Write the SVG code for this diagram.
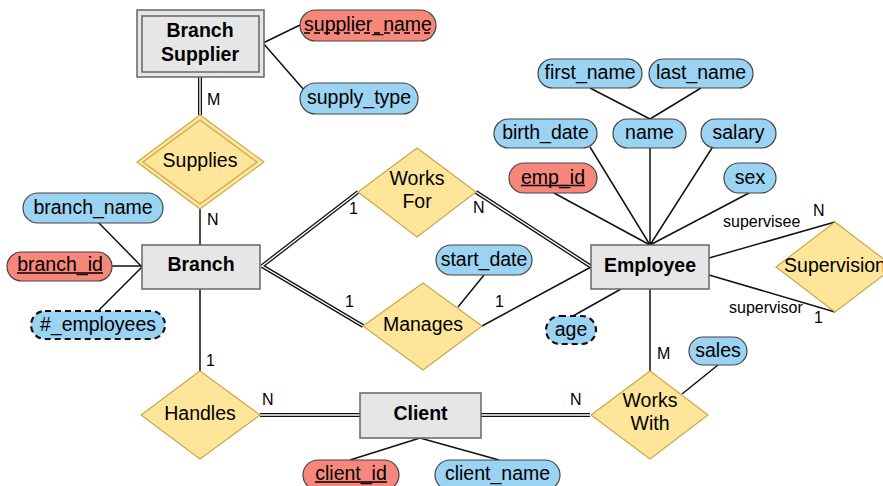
<svg xmlns="http://www.w3.org/2000/svg" width="883" height="486" viewBox="0 0 883 486">
<defs>
<style>
text{font-family:"Liberation Sans",Arial,sans-serif;font-size:19.5px;fill:#000;text-anchor:middle}
.ent{fill:#e6e6e6;stroke:#666;stroke-width:1.5}
.bold{font-weight:bold}
.rel{fill:#fee59a;stroke:#c8a84a;stroke-width:1.2}
.attr{fill:#9bd3f2;stroke:#444;stroke-width:1.2}
.key{fill:#f7877a;stroke:#444;stroke-width:1.2}
.derived{fill:#9bd3f2;stroke:#111;stroke-width:2.2;stroke-dasharray:6 4}
.ln{stroke:#111;stroke-width:1.5;fill:none}
.dbl1{stroke:#111;stroke-width:4;fill:none}
.dbl2{stroke:#fff;stroke-width:1.4;fill:none}
.lbl{font-size:16px;text-anchor:start}
.ul{stroke:#000;stroke-width:1.4}
</style>
</defs>
<rect width="883" height="486" fill="#fff"/>
<g id="connectors">
<path class="ln" d="M263,43 L300,25 M263,43 L304,90 M200,209 L200,245 M98,222 L142,267 M112,266 L142,266 M97,312 L142,267 M482,326 L591,267 M484,275 L458,307 M590,88 L650,119 M701,88 L650,119 M650,148 L650,245 M590,147 L650,245 M712,148 L650,245 M554,193 L650,245 M749,193 L650,245 M709,258 L835,222 M709,275 L835,312 M573,316 L621,289 M650,289 L650,371 M718,365 L682,394 M200,289 L200,371 M420,438 L350,460 M420,438 L499,460"/>
<path class="dbl1" d="M200,77 L200,115 M262,266 L358,192 M262,266 L363,326 M476,192 L590,266 M260,415 L360,415 M481,415 L590,415"/>
<path class="dbl2" d="M200,77 L200,115 M262,266 L358,192 M262,266 L363,326 M476,192 L590,266 M260,415 L360,415 M481,415 L590,415"/>
<text class="lbl" x="207" y="105">M</text>
<text class="lbl" x="207" y="225">N</text>
<text class="lbl" x="349" y="214">1</text>
<text class="lbl" x="473" y="213">N</text>
<text class="lbl" x="345" y="307">1</text>
<text class="lbl" x="495" y="307">1</text>
<text class="lbl" x="723" y="227">supervisee</text>
<text class="lbl" x="813" y="216">N</text>
<text class="lbl" x="729" y="313">supervisor</text>
<text class="lbl" x="814" y="323">1</text>
<text class="lbl" x="657" y="359">M</text>
<text class="lbl" x="570" y="405">N</text>
<text class="lbl" x="262" y="405">N</text>
<text class="lbl" x="206" y="366">1</text>
</g>
<g id="branch_supplier">
<rect class="ent" x="137" y="10" width="127" height="67"/>
<rect class="ent" x="142" y="16" width="117" height="56"/>
<text class="bold" x="200" y="37">Branch</text>
<text class="bold" x="200" y="61">Supplier</text>
</g>
<g id="supplier_name">
<rect class="key" x="300" y="10" width="136" height="31" rx="15.5"/>
<text x="368" y="31">supplier_name</text>
<line class="ul" x1="304" y1="33" x2="432" y2="33" stroke-dasharray="6 4"/>
</g>
<g id="supply_type">
<rect class="attr" x="300" y="83" width="118" height="31" rx="15.5"/>
<text x="359" y="104">supply_type</text>
</g>
<g id="supplies">
<polygon class="rel" points="200,115 264,162 200,209 137,162"/>
<polygon class="rel" points="200,120 257,162 200,204 143,162"/>
<text x="200" y="167">Supplies</text>
</g>
<g id="branch">
<rect class="ent" x="142" y="245" width="118" height="44"/>
<text class="bold" x="201" y="271">Branch</text>
</g>
<g id="branch_name">
<rect class="attr" x="23" y="193" width="140" height="30" rx="15"/>
<text x="93" y="213.5">branch_name</text>
</g>
<g id="branch_id">
<rect class="key" x="7" y="252" width="105" height="29" rx="14.5"/>
<text x="60" y="271">branch_id</text>
<line class="ul" x1="17" y1="273" x2="103" y2="273"/>
</g>
<g id="num_employees">
<rect class="derived" x="31" y="311" width="134" height="28" rx="14"/>
<text x="98" y="331">#_employees</text>
</g>
<g id="works_for">
<polygon class="rel" points="417,148 476,192 417,237 358,192"/>
<text x="417" y="185">Works</text>
<text x="417" y="208">For</text>
</g>
<g id="manages">
<polygon class="rel" points="423,283 482,326 423,370 363,326"/>
<text x="423" y="330.5">Manages</text>
</g>
<g id="start_date">
<rect class="attr" x="436" y="245" width="96" height="30" rx="15"/>
<text x="484" y="265.5">start_date</text>
</g>
<g id="employee">
<rect class="ent" x="591" y="245" width="118" height="44"/>
<text class="bold" x="650" y="271.5">Employee</text>
</g>
<g id="first_name">
<rect class="attr" x="538" y="59" width="104" height="29" rx="14.5"/>
<text x="590" y="79">first_name</text>
</g>
<g id="last_name">
<rect class="attr" x="649" y="59" width="104" height="29" rx="14.5"/>
<text x="701" y="79">last_name</text>
</g>
<g id="birth_date">
<rect class="attr" x="494" y="119" width="103" height="29" rx="14.5"/>
<text x="545.5" y="139">birth_date</text>
</g>
<g id="name">
<rect class="attr" x="613" y="119" width="73" height="29" rx="14.5"/>
<text x="649.5" y="139">name</text>
</g>
<g id="salary">
<rect class="attr" x="701" y="119" width="75" height="29" rx="14.5"/>
<text x="738.5" y="139">salary</text>
</g>
<g id="emp_id">
<rect class="key" x="509" y="163" width="88" height="30" rx="15"/>
<text x="553" y="183.5">emp_id</text>
<line class="ul" x1="521" y1="185.5" x2="585" y2="185.5"/>
</g>
<g id="sex">
<rect class="attr" x="724" y="163" width="52" height="30" rx="15"/>
<text x="750" y="183.5">sex</text>
</g>
<g id="supervision">
<polygon class="rel" points="835,222 894,267 835,312 776,267"/>
<text x="835" y="271.5">Supervision</text>
</g>
<g id="age">
<rect class="derived" x="546" y="316" width="50" height="28" rx="14"/>
<text x="571" y="335.5">age</text>
</g>
<g id="works_with">
<polygon class="rel" points="650,371 708,415 650,459 591,415"/>
<text x="650" y="407">Works</text>
<text x="650" y="430">With</text>
</g>
<g id="sales">
<rect class="attr" x="689" y="337" width="58" height="28" rx="14"/>
<text x="718" y="356.5">sales</text>
</g>
<g id="handles">
<polygon class="rel" points="200,371 260,415 200,459 141,415"/>
<text x="200" y="419.5">Handles</text>
</g>
<g id="client">
<rect class="ent" x="360" y="393" width="121" height="45"/>
<text class="bold" x="420.5" y="419.5">Client</text>
</g>
<g id="client_id">
<rect class="key" x="303" y="460" width="96" height="30" rx="15"/>
<text x="351" y="480">client_id</text>
<line class="ul" x1="315" y1="482" x2="387" y2="482"/>
</g>
<g id="client_name">
<rect class="attr" x="435" y="460" width="125" height="30" rx="15"/>
<text x="497.5" y="480">client_name</text>
</g>
</svg>
